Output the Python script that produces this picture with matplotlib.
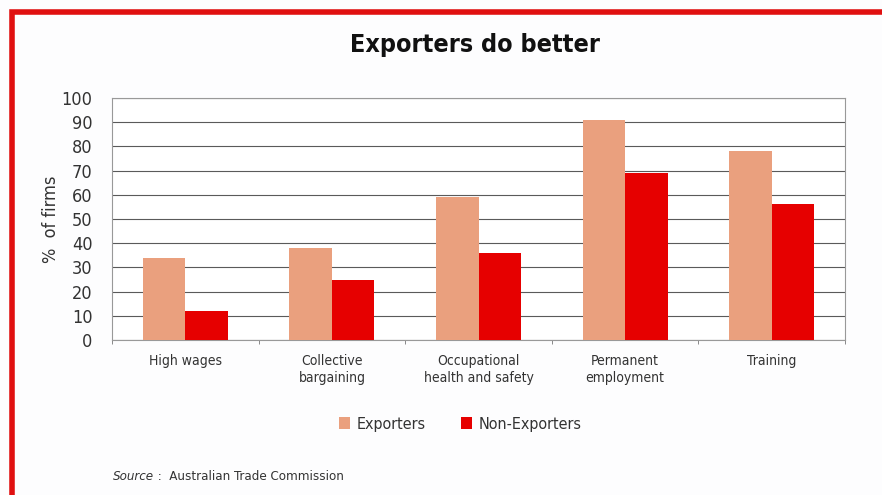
import numpy as np
import matplotlib.pyplot as plt
from matplotlib.patches import Rectangle

categories = ['High wages', 'Collective\nbargaining', 'Occupational\nhealth and safety',
              'Permanent\nemployment', 'Training']
exporters = [34, 38, 59, 91, 78]
non_exporters = [12, 25, 36, 69, 56]

plt.rcParams['font.family'] = ['DejaVu Sans']
plt.rcParams['font.stretch'] = 'condensed'

fig = plt.figure(figsize=(8.82, 4.95), dpi=100)
fig.patch.set_facecolor('#fdfdfe')

# red frame (right and bottom edges run off the picture)
fig.add_artist(Rectangle((12 / 882, -0.05), 1.0, (495 - 12) / 495 + 0.05 - 0.001,
                         transform=fig.transFigure, fill=False,
                         edgecolor='#e01010', linewidth=4))

ax = fig.add_axes([112 / 882, 1 - 340 / 495, (845 - 112) / 882, (340 - 98) / 495])
x = np.arange(len(categories))
w = 0.29
ax.bar(x - w / 2, exporters, w, color='#eaa07e', label='Exporters', zorder=3)
ax.bar(x + w / 2, non_exporters, w, color='#e60000', label='Non-Exporters', zorder=3)

ax.set_xlim(-0.5, len(categories) - 0.5)
ax.set_ylim(0, 100)
ax.set_yticks(range(0, 101, 10))
ax.yaxis.grid(True, color='#5a5a5a', linewidth=0.8, zorder=0)
ax.set_facecolor('white')
for s in ax.spines.values():
    s.set_color('#999999')
    s.set_linewidth(0.8)

ax.set_xticks(x)
ax.set_xticklabels(categories, fontsize=10, color='#333333', linespacing=1.3)
ax.set_xticks(np.arange(-0.5, len(categories), 1), minor=True)
ax.tick_params(axis='x', which='major', length=0, pad=10)
ax.tick_params(axis='x', which='minor', length=3, color='#777777', direction='out')
ax.tick_params(axis='y', length=0, labelsize=13, colors='#333333', pad=14)
ax.set_ylabel('%  of firms', fontsize=13, color='#333333', labelpad=1)

fig.text(475 / 882, 1 - 45 / 495, 'Exporters do better', ha='center', va='center',
         fontsize=18, fontweight='bold', color='#111111')

fig.legend(loc='center', bbox_to_anchor=(460 / 882, 1 - 424 / 495), ncol=2, frameon=False,
           fontsize=11.5, handlelength=0.7, handleheight=0.7, columnspacing=2.2,
           handletextpad=0.4, labelcolor='#333333')

# source line: italic "Source" followed by plain text
src = fig.text(113 / 882, 1 - 477 / 495, 'Source', fontsize=9.5, style='italic',
               color='#333333', va='center')
ax.annotate(' :  Australian Trade Commission', xy=(1, 0.5), xycoords=src,
            va='center', ha='left', fontsize=9.5, color='#333333', annotation_clip=False)

fig.savefig('out.png', dpi=100, facecolor=fig.get_facecolor())
